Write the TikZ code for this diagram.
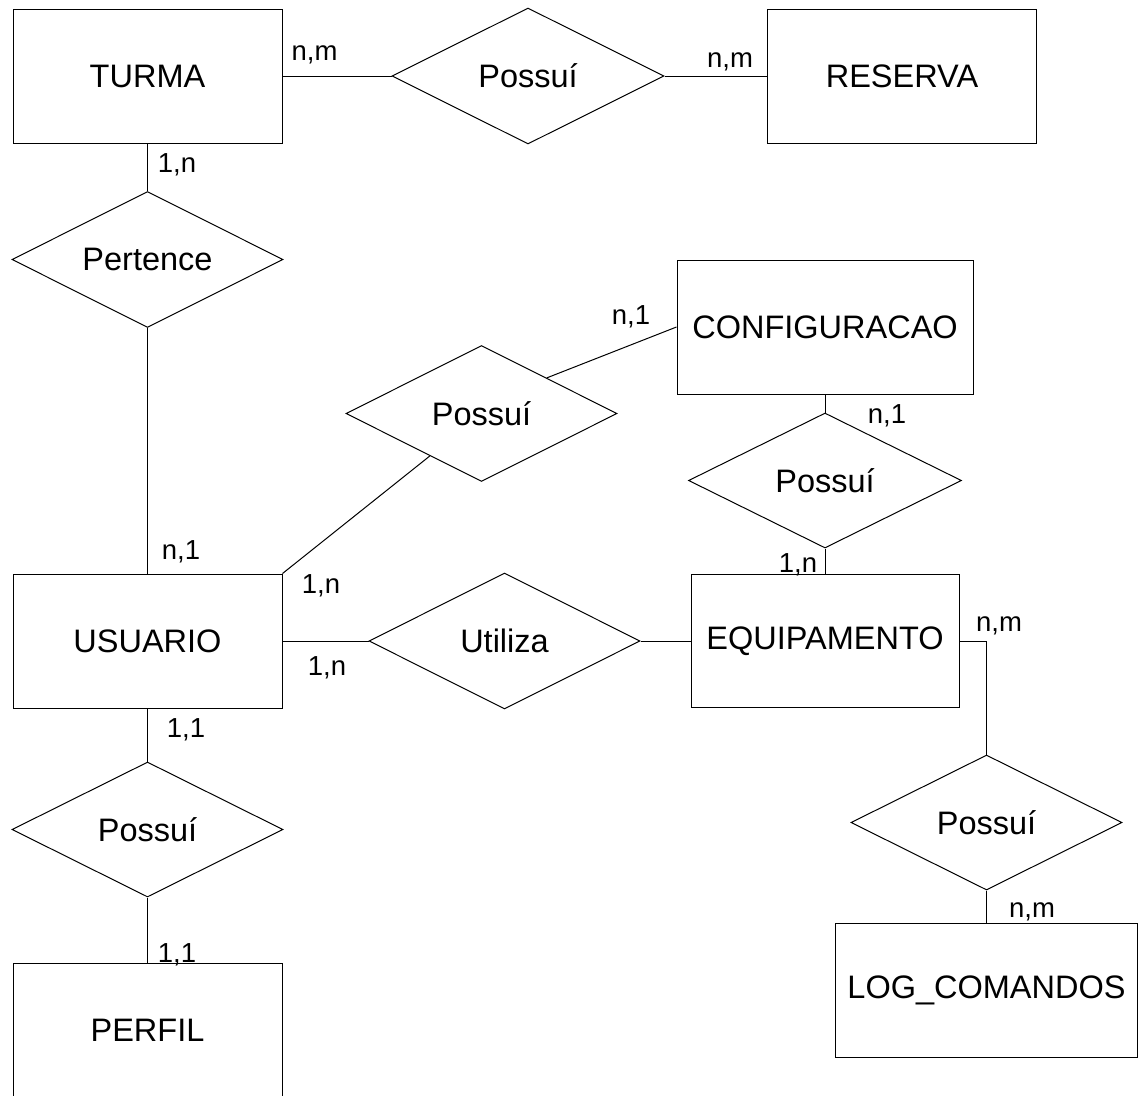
\documentclass[tikz,border=0pt]{standalone}
\usepackage{fontspec}
\setmainfont{Liberation Sans}
\usetikzlibrary{shapes.geometric,calc}
\begin{document}
\begin{tikzpicture}[x=1pt,y=-1pt,line width=1pt,
  entity/.style={draw,rectangle,inner sep=0pt,minimum width=269pt,minimum height=134pt,
    font=\fontsize{32.5}{39}\selectfont},
  relation/.style={draw,diamond,aspect=2,inner sep=0pt,minimum width=272pt,minimum height=136pt,
    font=\fontsize{32.5}{39}\selectfont},
  card/.style={anchor=base,inner sep=0pt,font=\fontsize{27.5}{33}\selectfont}]
\useasboundingbox (0,0) rectangle (1139,1095);
\clip (0,0) rectangle (1139,1095);

% entities
\node[entity] (turma) at (147.5,76) {TURMA};
\node[entity] (reserva) at (902,76) {RESERVA};
\node[entity] (usuario) at (147.5,641) {USUARIO};
\node[entity,minimum width=296pt] (config) at (825,327) {CONFIGURACAO};
\node[entity,minimum width=268pt,minimum height=133pt] (equip) at (825,641) {EQUIPAMENTO};
\node[entity,minimum width=302pt] (log) at (986.5,990) {LOG\_COMANDOS};
\node[entity] (perfil) at (147.5,1030) {PERFIL};

% relationships
\node[relation] (rtr) at (528,76) {Possuí};
\node[relation,minimum width=271pt] (rpert) at (147.5,259.5) {Pertence};
\node[relation,minimum width=271pt] (ruc) at (481.5,413.5) {Possuí};
\node[relation,minimum width=273pt,minimum height=135pt] (rce) at (825,480.5) {Possuí};
\node[relation,minimum width=271pt] (rue) at (504.5,641) {Utiliza};
\node[relation,minimum width=271pt,minimum height=135pt] (rel) at (986.5,822.5) {Possuí};
\node[relation,minimum width=271pt,minimum height=135pt] (rup) at (147.5,829.5) {Possuí};

% connectors
\draw (turma.east) -- (rtr.west);
\draw (rtr.east) -- (reserva.west);
\draw (turma.south) -- (rpert.north);
\draw (rpert.south) -- (usuario.north);
\draw (usuario.north east) -- ($(ruc.west)!0.62!(ruc.south)$);
\draw ($(ruc.north)!0.48!(ruc.east)$) -- (config.west);
\draw (config.south) -- (rce.north);
\draw (rce.south) -- (equip.north);
\draw (usuario.east) -- (rue.west);
\draw (rue.east) -- (equip.west);
\draw (equip.east) -| (rel.north);
\draw (rel.south) -- (log.north);
\draw (usuario.south) -- (rup.north);
\draw (rup.south) -- (perfil.north);

% cardinalities
\node[card] (c1) at (314.5,60) {n,m};
\node[card] (c2) at (730,67) {n,m};
\node[card] (c3) at (177,172) {1,n};
\node[card] (c4) at (181,559) {n,1};
\node[card] (c5) at (631,324) {n,1};
\node[card] (c6) at (321,593) {1,n};
\node[card] (c7) at (327,675) {1,n};
\node[card] (c8) at (887,423) {n,1};
\node[card] (c9) at (798,572) {1,n};
\node[card] (c10) at (999,631) {n,m};
\node[card] (c11) at (1032,917) {n,m};
\node[card] (c12) at (186,737) {1,1};
\node[card] (c13) at (177,962) {1,1};
\end{tikzpicture}
\end{document}
